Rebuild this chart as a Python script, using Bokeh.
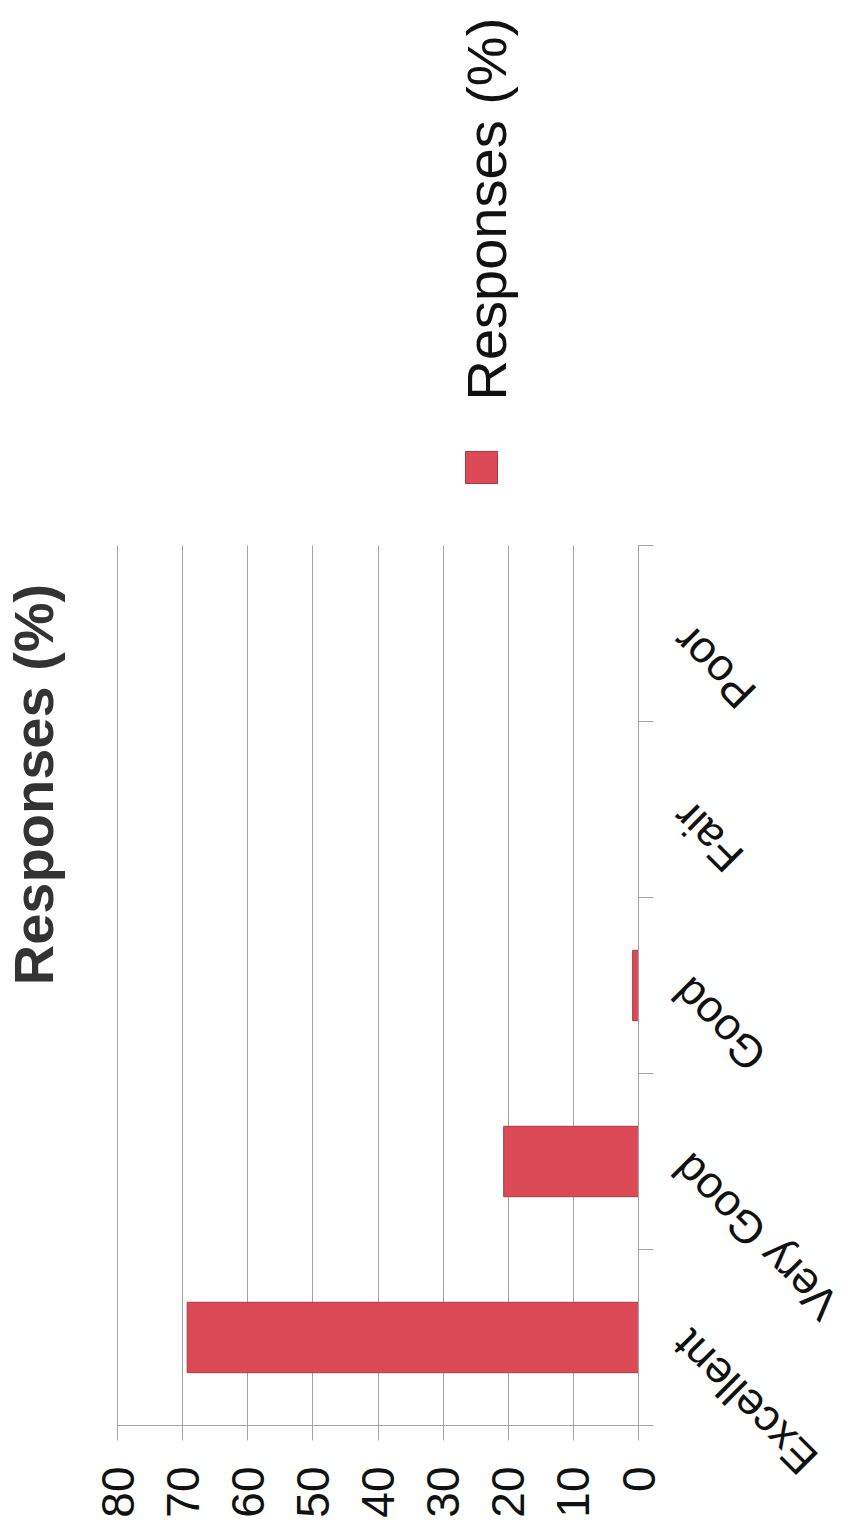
import math
from bokeh.plotting import figure
from bokeh.models import (Range1d, LinearAxis, FixedTicker, ColumnDataSource,
                          LabelSet, Label, Grid)
from bokeh.core.properties import value
from bokeh.embed import file_html
from bokeh.resources import INLINE

# ---- data ----
categories = ["Excellent", "Very Good", "Good", "Fair", "Poor"]
responses = [69.3, 20.7, 0.9, 0.0, 0.0]
value_ticks = [0, 10, 20, 30, 40, 50, 60, 70, 80]
title_text = "Responses (%)"
series_name = "Responses (%)"

FONT = "Liberation Sans"
GRID = "#a3a3a3"
BAR = "#dc4a57"
BAR_LINE = "#a83a45"

W, H = 851, 1535
# where the value scale and the category band sit on the canvas (pixels)
PX_V80, PX_V0 = 117, 638
PY_TOP, PY_BOTTOM = 545, 1425

n = len(categories)
vmax = max(value_ticks)
kx = (PX_V0 - PX_V80) / vmax          # px per value unit
ky = (PY_BOTTOM - PY_TOP) / n         # px per category band

def vx(px):   # canvas x pixel -> value coordinate
    return (PX_V0 - px) / kx

def vy(py):   # canvas y pixel -> band coordinate
    return (PY_BOTTOM - py) / ky

positions = [i + 0.5 for i in range(n)]  # band centres, first category at bottom
src = ColumnDataSource(dict(cat=categories, val=responses, pos=positions))

p = figure(width=W, height=H, output_backend="svg", toolbar_location=None,
           x_range=Range1d(vx(0), vx(W)), y_range=Range1d(vy(H), vy(0)),
           x_axis_location=None, y_axis_location=None,
           min_border=0)
p.outline_line_color = None
p.background_fill_color = "white"
p.border_fill_color = "white"
p.xgrid.visible = False
p.ygrid.visible = False

# grid lines at the value ticks, limited to the category band
grid_kw = dict(dimension=0, ticker=FixedTicker(ticks=value_ticks),
               grid_line_color=GRID, bounds=(0, vmax))
if "cross_bounds" in Grid.properties():
    grid_kw["cross_bounds"] = (0, n)
    p.add_layout(Grid(**grid_kw))
else:
    p.segment(x0=value_ticks, x1=value_ticks, y0=0, y1=n, line_color=GRID, line_width=1)

bars = p.hbar(y="pos", left=0, right="val", height=0.4, source=src,
              fill_color=BAR, line_color=BAR_LINE, line_width=1)

# value axis (drawn at the bottom of the category band)
ax = LinearAxis(fixed_location=0, bounds=(0, vmax), ticker=FixedTicker(ticks=value_ticks),
                major_label_orientation=math.pi / 2,
                major_label_text_font=FONT, major_label_text_font_size="46px",
                major_label_text_color="#111111", major_label_standoff=26,
                major_tick_out=15, major_tick_in=0, minor_tick_line_color=None,
                axis_line_color=GRID, major_tick_line_color=GRID)
p.add_layout(ax, "below")

# category axis line, with ticks at the category boundaries
bounds_pos = list(range(n + 1))
tick_len = 15 / kx
p.segment(x0=[0], x1=[0], y0=[0], y1=[n], line_color=GRID, line_width=1)
p.segment(x0=[0] * len(bounds_pos), x1=[-tick_len] * len(bounds_pos),
          y0=bounds_pos, y1=bounds_pos, line_color=GRID, line_width=1)

# category labels, rotated
cat_labels = LabelSet(x=0, y="pos", text="cat", source=src, angle=3 * math.pi / 4,
                      x_offset=42, text_align="right", text_baseline="middle",
                      text_font=value(FONT), text_font_size="45px", text_color="#111111")
p.add_layout(cat_labels)

# title (rotated, left)
p.add_layout(Label(x=vx(33), y=vy(784), text=title_text, angle=math.pi / 2,
                   text_align="center", text_baseline="alphabetic",
                   text_font=FONT, text_font_style="bold",
                   text_font_size="56px", text_color="#333333"))

# legend: marker and rotated text
p.scatter(x=[vx(481)], y=[vy(467)], marker="square", size=32,
          fill_color=BAR, line_color=BAR_LINE)
p.add_layout(Label(x=vx(486), y=vy(400), text=series_name, angle=math.pi / 2,
                   text_align="left", text_baseline="alphabetic",
                   text_font=FONT, text_font_size="56px", text_color="#111111"))

open("out.html", "w").write(file_html(p, INLINE))
